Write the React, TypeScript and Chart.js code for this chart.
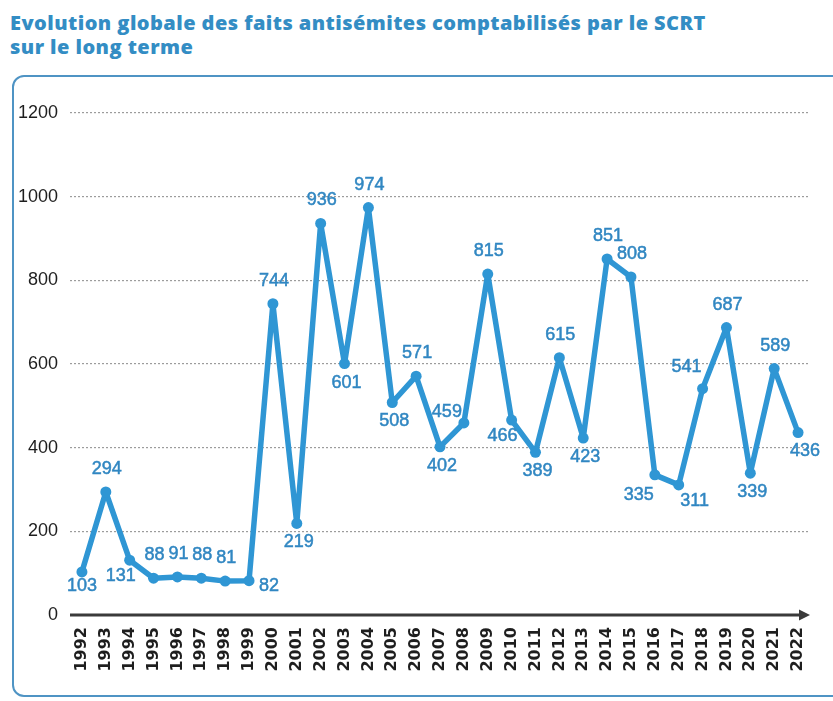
import React, { useEffect, useRef } from "react";
import { Chart, registerables } from "chart.js";

Chart.register(...registerables);

// ---------- data ----------
const years = [
  "1992", "1993", "1994", "1995", "1996", "1997", "1998", "1999", "2000", "2001",
  "2002", "2003", "2004", "2005", "2006", "2007", "2008", "2009", "2010", "2011",
  "2012", "2013", "2014", "2015", "2016", "2017", "2018", "2019", "2020", "2021", "2022",
];
const faits = [
  103, 294, 131, 88, 91, 88, 81, 82, 744, 219,
  936, 601, 974, 508, 571, 402, 459, 815, 466, 389,
  615, 423, 851, 808, 335, 311, 541, 687, 339, 589, 436,
];
const yMin = 0;
const yMax = 1200;
const yStep = 200;
const titleLines = [
  "Evolution globale des faits antisémites comptabilisés par le SCRT",
  "sur le long terme",
];
// where each value label sits relative to its point
const labelSide = [
  "b0", "a", "bl", "a", "a", "a", "a", "r", "a", "b",
  "a", "b", "a", "b", "a", "b", "l", "a", "bl", "b",
  "a", "b", "a", "a", "bL", "bR", "al", "a", "b", "a", "br",
];

// ---------- styles ----------
const BLUE = "#2f96d4";
const LABEL_BLUE = "#3187c2";
const TITLE_BLUE = "#338dc4";
const sideOffsets: Record<string, [number, number]> = {
  a: [1, -23],
  b: [2, 19],
  b0: [0, 14],
  bl: [-9, 16],
  bL: [-16, 20],
  bR: [16, 16],
  r: [20, 5],
  br: [7, 18],
  l: [-17, -11],
  al: [-16, -22],
};

const valueLabels = {
  id: "valueLabels",
  afterDatasetsDraw(chart: any) {
    const ctx = chart.ctx;
    const meta = chart.getDatasetMeta(0);
    ctx.save();
    ctx.font = "18px 'Liberation Sans', Arial, sans-serif";
    ctx.fillStyle = LABEL_BLUE;
    ctx.strokeStyle = LABEL_BLUE;
    ctx.lineWidth = 0.5;
    ctx.textAlign = "center";
    ctx.textBaseline = "middle";
    meta.data.forEach((pt: any, i: number) => {
      const off = sideOffsets[labelSide[i]] || [0, -22];
      const t = String(faits[i]);
      ctx.fillText(t, pt.x + off[0], pt.y + off[1]);
      ctx.strokeText(t, pt.x + off[0], pt.y + off[1]);
    });
    ctx.restore();
  },
};

const arrowAxis = {
  id: "arrowAxis",
  beforeDatasetsDraw(chart: any) {
    const { ctx, chartArea } = chart;
    const y = chart.scales.y.getPixelForValue(0);
    const x0 = chartArea.left;
    const x1 = chartArea.right;
    ctx.save();
    ctx.strokeStyle = "#3a3a3a";
    ctx.fillStyle = "#3a3a3a";
    ctx.lineWidth = 3;
    ctx.beginPath();
    ctx.moveTo(x0, y);
    ctx.lineTo(x1 - 8, y);
    ctx.stroke();
    ctx.beginPath();
    ctx.moveTo(x1, y);
    ctx.lineTo(x1 - 11, y - 5.5);
    ctx.lineTo(x1 - 11, y + 5.5);
    ctx.closePath();
    ctx.fill();
    ctx.restore();
  },
};

export default function App() {
  const ref = useRef<HTMLCanvasElement | null>(null);

  useEffect(() => {
    document.body.style.margin = "0";
    const canvas = ref.current;
    if (!canvas) return;
    const chart = new Chart(canvas, {
      type: "line",
      data: {
        labels: years,
        datasets: [
          {
            data: faits,
            borderColor: BLUE,
            backgroundColor: BLUE,
            borderWidth: 5.5,
            pointRadius: 5.5,
            pointBackgroundColor: BLUE,
            pointBorderColor: BLUE,
            pointBorderWidth: 0,
            tension: 0,
            borderJoinStyle: "round",
            borderCapStyle: "round",
          },
        ],
      },
      options: {
        responsive: false,
        animation: false,
        events: [],
        layout: { padding: { top: 113, right: 23, bottom: 26, left: 0 } },
        plugins: {
          legend: { display: false },
          title: { display: false },
          tooltip: { enabled: false },
        },
        scales: {
          x: {
            type: "category",
            offset: true,
            grid: { display: false, drawTicks: false },
            border: { display: false },
            ticks: {
              autoSkip: false,
              minRotation: 90,
              maxRotation: 90,
              padding: 12,
              color: "#1e1e1e",
              font: { family: "'DejaVu Sans', sans-serif", size: 16, weight: "bold" },
            },
            afterFit(scale: any) {
              scale.height = 60;
            },
          },
          y: {
            min: yMin,
            max: yMax,
            border: { display: false, dash: [2, 2] },
            grid: {
              drawTicks: false,
              color: (c: any) => (c.tick && c.tick.value === 0 ? "rgba(0,0,0,0)" : "#9c9c9c"),
              lineWidth: 1.2,
            },
            ticks: {
              stepSize: yStep,
              padding: 12,
              color: "#1e1e1e",
              font: { family: "'Liberation Sans', Arial, sans-serif", size: 18 },
              callback: (v: any) => String(v),
            },
            afterFit(scale: any) {
              scale.width = 70;
            },
          },
        },
      },
      plugins: [arrowAxis, valueLabels],
    });
    return () => chart.destroy();
  }, []);

  return (
    <div
      style={{
        position: "absolute",
        left: 0,
        top: 0,
        width: 833,
        height: 701,
        overflow: "hidden",
        background: "#ffffff",
      }}
    >
      <div
        style={{
          position: "absolute",
          left: 10,
          top: 11,
          fontFamily: "'Open Sans', sans-serif",
          fontWeight: 800,
          fontSize: 20,
          letterSpacing: "0.45px",
          lineHeight: "24px",
          color: TITLE_BLUE,
          whiteSpace: "nowrap",
        }}
      >
        {titleLines.map((t, i) => (
          <div key={i}>{t}</div>
        ))}
      </div>
      <div
        style={{
          position: "absolute",
          left: 12,
          top: 75,
          width: 840,
          height: 622,
          border: "2px solid #4f94c4",
          borderRadius: 12,
          boxSizing: "border-box",
        }}
      />
      <canvas
        ref={ref}
        width={833}
        height={701}
        style={{ position: "absolute", left: 0, top: 0, width: 833, height: 701 }}
      />
    </div>
  );
}
